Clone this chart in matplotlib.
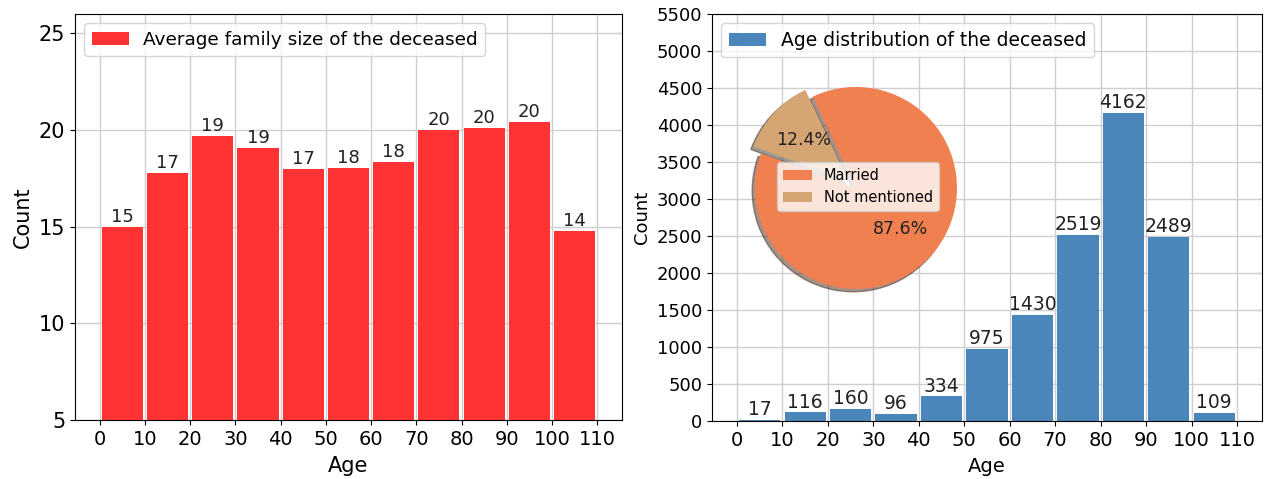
import matplotlib
matplotlib.use("Agg")
import matplotlib.pyplot as plt
import numpy as np

# ---- data ----
age_bins = [0, 10, 20, 30, 40, 50, 60, 70, 80, 90, 100]
family_size = [15.0, 17.78, 19.71, 19.09, 17.97, 18.02, 18.34, 20.0, 20.1, 20.42, 14.76]
age_counts = [17, 116, 160, 96, 334, 975, 1430, 2519, 4162, 2489, 109]
xticks = [0, 10, 20, 30, 40, 50, 60, 70, 80, 90, 100, 110]
pie_labels = ["Married", "Not mentioned"]
pie_values = [87.6, 12.4]

BIN_W = 10
BAR_W = 9.1
centers = [b + BIN_W / 2 for b in age_bins]

fig = plt.figure(figsize=(12.64, 4.79), dpi=100)

# ---- left chart ----
ax1 = fig.add_axes([0.0593, 0.1232, 0.4328, 0.8476])
ax1.set_axisbelow(True)
ax1.grid(True, color="#cfcfcf", linewidth=1)
bars1 = ax1.bar(centers, family_size, width=BAR_W, align="center", color="#FF3333",
                linewidth=0, label="Average family size of the deceased")
for b, v in zip(bars1, family_size):
    ax1.text(b.get_x() + b.get_width() / 2, v + 0.05, "%d" % int(v), ha="center",
             va="bottom", fontsize=13, color="#222222")
ax1.set_ylim(5, 26)
ax1.set_xlim(-5.5, 115.5)
ax1.set_yticks([5, 10, 15, 20, 25])
ax1.set_xticks(xticks)
ax1.tick_params(axis="y", labelsize=15)
ax1.tick_params(axis="x", labelsize=14)
ax1.set_xlabel("Age", fontsize=15, labelpad=5)
ax1.set_ylabel("Count", fontsize=15)
ax1.legend(loc="upper left", fontsize=13.3)

# ---- right chart ----
ax2 = fig.add_axes([0.5633, 0.1211, 0.4351, 0.8497])
ax2.set_axisbelow(True)
ax2.grid(True, color="#cfcfcf", linewidth=1)
bars2 = ax2.bar(centers, age_counts, width=BAR_W, align="center", color="#4A86BA",
                linewidth=0, label="Age distribution of the deceased")
for b, v in zip(bars2, age_counts):
    ax2.text(b.get_x() + b.get_width() / 2, v + 10, str(v), ha="center",
             va="bottom", fontsize=13.5, color="#222222")
ax2.set_ylim(0, 5500)
ax2.set_xlim(-5.5, 115.5)
ax2.set_yticks(np.arange(0, 5501, 500))
ax2.set_xticks(xticks)
ax2.tick_params(axis="y", labelsize=13)
ax2.tick_params(axis="x", labelsize=14)
ax2.set_xlabel("Age", fontsize=14, labelpad=5)
ax2.set_ylabel("Count", fontsize=13)
ax2.legend(loc="upper left", fontsize=13.5)

# ---- inset pie ----
ax3 = fig.add_axes([0.5773, 0.344, 0.1998, 0.5271])
wedges, texts, autotexts = ax3.pie(
    pie_values, explode=[0, 0.1], colors=["#F0804F", "#D4A572"],
    autopct="%1.1f%%", shadow=True, startangle=160,
    textprops={"fontsize": 12.5, "color": "#222222"})
ax3.set_xlim(-1.25, 1.25)
ax3.set_ylim(-1.25, 1.25)
ax3.legend(wedges, pie_labels, loc="upper left", bbox_to_anchor=(0.187, 0.603),
           borderaxespad=0, fontsize=10.5)

fig.savefig("out.png", dpi=100)
